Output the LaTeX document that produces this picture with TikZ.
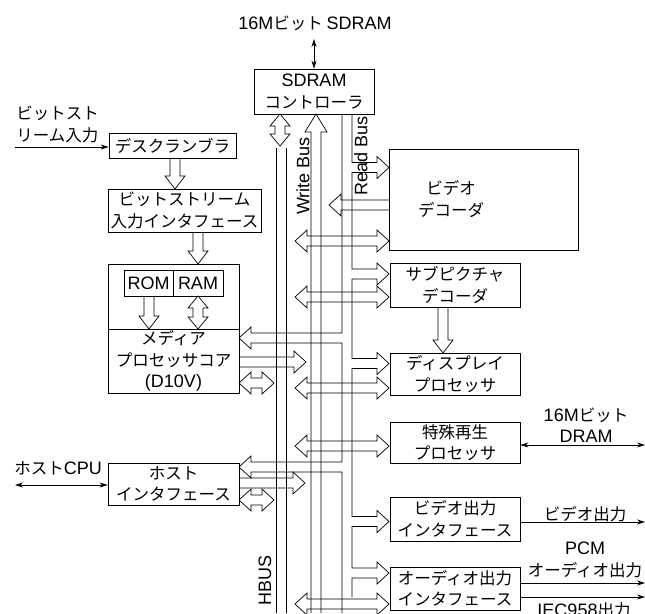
\documentclass[tikz,border=0pt]{standalone}
\usepackage{fontspec}
\setmainfont{Noto Sans CJK JP}
\newfontfamily\latf{Liberation Sans}
\usetikzlibrary{arrows.meta}
\newcommand\jps{\fontsize{16.5}{21.5}\selectfont}
\newcommand\Lt[1]{{\latf\fontsize{18}{21.5}\selectfont #1}}
% hollow arrows: right-pointing (tail x, tip x, centre y)
\newcommand\ArrR[3]{\draw (#1,#3-5) -- (#2-12,#3-5) -- (#2-12,#3-11) -- (#2,#3) -- (#2-12,#3+11) -- (#2-12,#3+5) -- (#1,#3+5);}
% left-pointing (tail x, tip x, centre y)
\newcommand\ArrL[3]{\draw (#1,#3-5) -- (#2+12,#3-5) -- (#2+12,#3-11) -- (#2,#3) -- (#2+12,#3+11) -- (#2+12,#3+5) -- (#1,#3+5);}
% double horizontal (left tip, right tip, centre y)
\newcommand\ArrLR[3]{\draw (#1,#3) -- (#1+12,#3-11) -- (#1+12,#3-5) -- (#2-12,#3-5) -- (#2-12,#3-11) -- (#2,#3) -- (#2-12,#3+11) -- (#2-12,#3+5) -- (#1+12,#3+5) -- (#1+12,#3+11) -- cycle;}
% vertical down (x, tail y, tip y)
\newcommand\ArrDn[3]{\draw (#1-5,#2) -- (#1-5,#3-13) -- (#1-10,#3-13) -- (#1,#3) -- (#1+10,#3-13) -- (#1+5,#3-13) -- (#1+5,#2);}
% vertical double (x, top tip, bottom tip)
\newcommand\ArrUD[3]{\draw (#1,#2) -- (#1-10,#2+12) -- (#1-5,#2+12) -- (#1-5,#3-12) -- (#1-10,#3-12) -- (#1,#3) -- (#1+10,#3-12) -- (#1+5,#3-12) -- (#1+5,#2+12) -- (#1+10,#2+12) -- cycle;}
% read bus branches
\newcommand\RBr[1]{-- (352,#1-5) -- (377,#1-5) -- (377,#1-11) -- (389,#1) -- (377,#1+11) -- (377,#1+5) -- (352,#1+5)}
\newcommand\LBr[1]{-- (342,#1-5) -- (251,#1-5) -- (251,#1-11) -- (239,#1) -- (251,#1+11) -- (251,#1+5) -- (342,#1+5)}
\begin{document}
\begin{tikzpicture}[x=1pt,y=-1pt,line width=0.7pt,
  box/.style={draw,rectangle,inner sep=0pt,align=center,font=\jps},
  lbl/.style={inner sep=0pt,align=center,font=\jps},
  onearrow/.style={-{Stealth[length=8pt,width=5pt]}},
  twoarrow/.style={{Stealth[length=8pt,width=5pt]}-{Stealth[length=8pt,width=5pt]}}]
\useasboundingbox (0,0) rectangle (645,613);
\clip (0,0) rectangle (645,613);

% boxes
\node[box,minimum width=120pt,minimum height=45pt] (sdram) at (314,91.5) {\Lt{SDRAM}\\コントローラ};
\node[box,minimum width=127pt,minimum height=25pt] (desc) at (172.5,145.5) {デスクランブラ};
\node[box,minimum width=153pt,minimum height=43pt] (bsif) at (184.5,210.5) {ビットストリーム\\入力インタフェース};
\node[box,minimum width=131pt,minimum height=129pt] (media) at (173.5,328.5) {};
\draw (media.west |- 0,329) coordinate (divl) -- (media.east |- 0,329) coordinate (divr);
\node[box,minimum width=49pt,minimum height=26pt] (rom) at (148.5,283) {\Lt{ROM}};
\node[box,minimum width=50pt,minimum height=26pt] (ram) at (198,283) {\Lt{RAM}};
\node[lbl] (mediatext) at (173.5,361) {メディア\\プロセッサコア\\\Lt{(D10V)}};
\node[box,minimum width=131pt,minimum height=42pt] (host) at (173.5,484) {ホスト\\インタフェース};
\node[box,minimum width=189pt,minimum height=101pt] (vdec) at (483.5,199.5) {};
\node[lbl] (vdectext) at (451,199) {ビデオ\\デコーダ};
\node[box,minimum width=130pt,minimum height=44pt] (spdec) at (455,285) {サブピクチャ\\デコーダ};
\node[box,minimum width=130pt,minimum height=42pt] (disp) at (455,374) {ディスプレイ\\プロセッサ};
\node[box,minimum width=130pt,minimum height=41pt] (spec) at (455,442.5) {特殊再生\\プロセッサ};
\node[box,minimum width=130pt,minimum height=44pt] (vout) at (455,519) {ビデオ出力\\インタフェース};
\node[box,minimum width=130pt,minimum height=43pt] (aout) at (455,588.5) {オーディオ出力\\インタフェース};

% buses
\draw (276,148) -- (276,613);
\draw (286,148) -- (286,613);
\draw (311,613) -- (311,132) -- (305,132) -- (316,114) -- (327,132) -- (321,132) -- (321,613);
\draw (352,114) \RBr{167.5} \RBr{274} \RBr{363.5} \RBr{521.5} \RBr{573} -- (352,597);
\draw (342,114) \LBr{338} \LBr{467} -- (342,613);

% hollow arrows
\ArrUD{280}{114}{146}
\ArrDn{175}{158}{189}
\ArrDn{198}{232}{264}
\ArrDn{149}{296}{329}
\ArrUD{198}{296}{329}
\ArrDn{443}{307}{353}
\ArrL{389}{329}{205}
\ArrR{239}{306}{362}
\ArrR{239}{305}{483}
\ArrLR{239}{274}{383}
\ArrLR{239}{274}{500}
\ArrLR{295}{389}{241}
\ArrLR{295}{389}{297}
\ArrLR{295}{389}{388}
\ArrLR{295}{389}{446}
\ArrLR{295}{389}{604}

% bus labels
\node[lbl,rotate=90] (wbus) at (303,176) {\Lt{Write Bus}};
\node[lbl,rotate=90] (rbus) at (361,156) {\Lt{Read Bus}};
\node[lbl,rotate=90] (hbus) at (265,580) {\Lt{HBUS}};

% external connections
\node[lbl] (sdext) at (315,23) {\Lt{16M}ビット \Lt{SDRAM}};
\coordinate (sdtop) at (314,39);
\draw[twoarrow] (sdtop) -- (sdtop |- sdram.north);

\node[lbl,align=left,anchor=west] (bsin) at (16,124.5) {ビットスト\\リーム入力};
\coordinate (bsstart) at (15,147);
\draw[onearrow] (bsstart) -- (bsstart -| desc.west);

\node[lbl,anchor=west] (cpu) at (14,468) {ホスト\Lt{CPU}};
\coordinate (cpustart) at (15,485);
\draw[twoarrow] (cpustart) -- (cpustart -| host.west);

\node[lbl] (dram) at (586,425) {\Lt{16M}ビット\\\Lt{DRAM}};
\coordinate (dramend) at (645,445);
\draw[twoarrow] (dramend -| spec.east) -- (dramend);

\node[lbl] (vo) at (585,514) {ビデオ出力};
\coordinate (voend) at (645,522);
\draw[onearrow] (voend -| vout.east) -- (voend);

\node[lbl] (pcm) at (585,560) {\Lt{PCM}\\オーディオ出力};
\coordinate (ao1) at (645,583);
\coordinate (ao2) at (645,597);
\draw[onearrow] (ao1 -| aout.east) -- (ao1);
\draw[onearrow] (ao2 -| aout.east) -- (ao2);
\node[lbl] (iec) at (584,610) {\Lt{IEC958}出力};
\end{tikzpicture}
\end{document}
